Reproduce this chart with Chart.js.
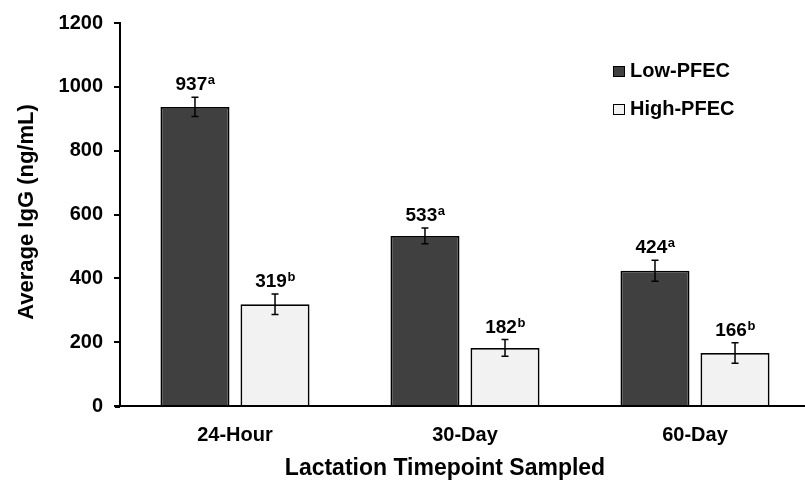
<!DOCTYPE html>
<html><head><meta charset="utf-8">
<script src="https://cdn.jsdelivr.net/npm/chart.js@4"></script>
<style>html,body{margin:0;padding:0;overflow:hidden;background:#fff}
#wrap{position:relative;width:810px;height:487px}</style></head>
<body><div id="wrap"><canvas id="c"></canvas></div>
<script>
const categories = ['24-Hour', '30-Day', '60-Day'];
const seriesNames = ['Low-PFEC', 'High-PFEC'];
const lowValues = [937, 533, 424];
const highValues = [319, 182, 166];
const lowErrors = [30, 25, 33];
const highErrors = [32, 26, 32];
const lowLetters = ['a', 'a', 'a'];
const highLetters = ['b', 'b', 'b'];
const yTicks = [0, 200, 400, 600, 800, 1000, 1200];
const xTitle = 'Lactation Timepoint Sampled';
const yTitle = 'Average IgG (ng/mL)';

const FF = "'Liberation Sans', Arial, sans-serif";
const colors = ['#404040', '#f2f2f2'];

const overlay = {
  id: 'overlay',
  afterDatasetsDraw(chart) {
    const ctx = chart.ctx, ys = chart.scales.y;
    const sets = [[lowValues, lowErrors, lowLetters], [highValues, highErrors, highLetters]];
    sets.forEach(([vals, errs, lets], di) => {
      const meta = chart.getDatasetMeta(di);
      meta.data.forEach((bar, i) => {
        const x = bar.x;
        const yt = ys.getPixelForValue(vals[i] + errs[i]);
        const yb = ys.getPixelForValue(vals[i] - errs[i]);
        ctx.save();
        ctx.strokeStyle = '#000'; ctx.lineWidth = 1.5;
        ctx.beginPath();
        ctx.moveTo(x, yt); ctx.lineTo(x, yb);
        ctx.moveTo(x - 3.5, yt); ctx.lineTo(x + 3.5, yt);
        ctx.moveTo(x - 3.5, yb); ctx.lineTo(x + 3.5, yb);
        ctx.stroke();
        const num = String(vals[i]);
        ctx.font = 'bold 19px ' + FF; const w1 = ctx.measureText(num).width;
        ctx.font = 'bold 13px ' + FF; const w2 = ctx.measureText(lets[i]).width;
        const x0 = x - (w1 + w2) / 2, base = yt - 7;
        ctx.fillStyle = '#000'; ctx.textAlign = 'left'; ctx.textBaseline = 'alphabetic';
        ctx.font = 'bold 19px ' + FF; ctx.fillText(num, x0, base);
        ctx.font = 'bold 13px ' + FF; ctx.fillText(lets[i], x0 + w1 + 0.5, base - 6);
        ctx.restore();
      });
    });
    ctx.save();
    // small extension of the x axis line to the left of the y axis
    const ca = chart.chartArea;
    ctx.strokeStyle = '#000'; ctx.lineWidth = 2;
    ctx.beginPath(); ctx.moveTo(ca.left - 5, ca.bottom + 1); ctx.lineTo(ca.left, ca.bottom + 1); ctx.stroke();
    // legend
    const legY = [71, 109];
    chart.data.datasets.forEach((ds, i) => {
      ctx.fillStyle = ds.backgroundColor;
      ctx.fillRect(613, legY[i] - 5, 12, 11);
      ctx.strokeStyle = '#000'; ctx.lineWidth = 1;
      ctx.strokeRect(613.5, legY[i] - 4.5, 11, 10);
      ctx.fillStyle = '#000';
      ctx.font = 'bold 20px ' + FF; ctx.textAlign = 'left'; ctx.textBaseline = 'middle';
      ctx.fillText(ds.label, 630, legY[i]);
    });
    // axis titles
    ctx.font = 'bold 23px ' + FF; ctx.textAlign = 'center'; ctx.textBaseline = 'alphabetic';
    ctx.fillText(xTitle, 445, 475);
    ctx.translate(33, 212); ctx.rotate(-Math.PI / 2);
    ctx.font = 'bold 22px ' + FF;
    ctx.fillText(yTitle, 0, 0);
    ctx.restore();
  }
};

new Chart(document.getElementById('c'), {
  type: 'bar',
  data: {
    labels: categories,
    datasets: [
      { label: seriesNames[0], data: lowValues, backgroundColor: colors[0], borderColor: '#000', borderWidth: 1.8 },
      { label: seriesNames[1], data: highValues, backgroundColor: colors[1], borderColor: '#000', borderWidth: 1.8 }
    ]
  },
  options: {
    responsive: true, maintainAspectRatio: false, animation: false,
    devicePixelRatio: 1,
    layout: { padding: { top: 18, left: 0, right: 0, bottom: 0 } },
    datasets: { bar: { categoryPercentage: 0.696, barPercentage: 0.8625 } },
    plugins: { legend: { display: false }, tooltip: { enabled: false } },
    scales: {
      x: {
        grid: { display: false, drawTicks: false },
        border: { display: true, color: '#000', width: 2 },
        ticks: { color: '#000', font: { family: FF, size: 20, weight: 'bold' }, padding: 17 },
        afterFit(s) { s.height = 81; }
      },
      y: {
        min: 0, max: 1200,
        afterBuildTicks(s) { s.ticks = yTicks.map(v => ({ value: v })); },
        grid: { drawOnChartArea: false, drawTicks: true, tickLength: 6, color: '#000', lineWidth: 2 },
        border: { display: true, color: '#000', width: 2 },
        ticks: { color: '#000', font: { family: FF, size: 20, weight: 'bold' }, padding: 11,
                 callback: (v) => String(v) },
        afterFit(s) { s.width = 120; }
      }
    }
  },
  plugins: [overlay]
});
</script>
</body></html>
